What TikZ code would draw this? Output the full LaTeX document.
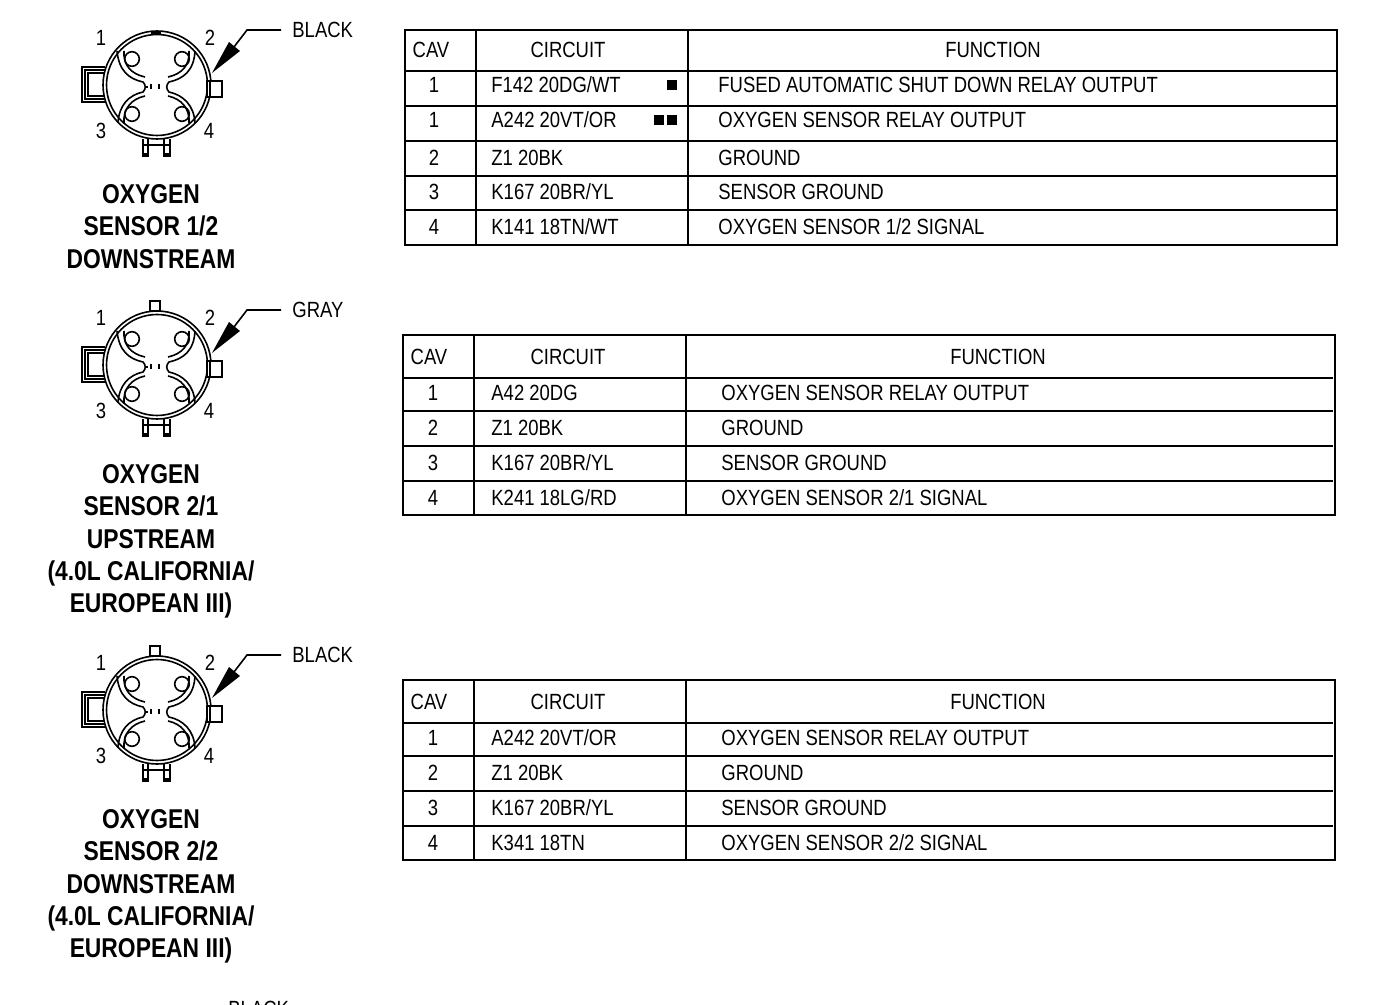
\documentclass[tikz,border=0pt]{standalone}
\usepackage{fontspec}
\setmainfont{Liberation Sans}[FakeStretch=0.84]
\usetikzlibrary{positioning}
\tikzset{cell/.style={inner sep=0pt, font=\fontsize{11}{11}\selectfont},
lcell/.style={cell,anchor=west},
pinno/.style={cell},
title/.style={inner sep=0pt, align=center, font=\fontsize{13.6}{16.2}\selectfont\bfseries},
grid/.style={line width=0.9pt},
conn/.style={line width=0.8pt},
leader/.style={line width=0.8pt},
bullet/.style={rectangle, fill=black, minimum size=5pt, inner sep=0pt},
pics/oxyconn/.style={code={
  \draw [conn] (-52,-18) -- (-75,-18) -- (-75,17) -- (-52,17);
  \draw [conn] (-52,-15) -- (-72,-15) -- (-72,14) -- (-52,14);
  \draw [line width=1.1pt] (-52,-12) -- (-69,-12) -- (-69,11) -- (-52,11);
  \draw [conn,fill=white] (0,0) circle (54);
  \draw [conn] (0,0) circle (50.5);
  % contact arcs
  \draw [conn] (-40,-34) .. controls (-38,-14) and (-28,-6) .. (-14,-3) .. controls (-11,0) and (-11,4) .. (-14,7) .. controls (-28,10) and (-38,20) .. (-39,38);
  \draw [conn] (38,-34) .. controls (37,-14) and (26,-6) .. (12,-3) .. controls (9,0) and (9,4) .. (12,7) .. controls (26,10) and (37,20) .. (38,38);
  \draw [conn] (-33,-34) .. controls (-34,-20) and (-26,-11) .. (-12,-8);
  \draw [conn] (32,-34) .. controls (33,-20) and (25,-11) .. (11,-8);
  \draw [conn] (-33,38) .. controls (-34,24) and (-26,14) .. (-12,11);
  \draw [conn] (32,38) .. controls (33,24) and (25,14) .. (11,11);
  \draw [conn] (-25,-26) circle (7.3);
  \draw [conn] (25,-26) circle (7.3);
  \draw [conn] (-25,29) circle (7.3);
  \draw [conn] (25,29) circle (7.3);
  \fill (-11,1) rectangle (-9,3);
  \fill (-7,-1) rectangle (-5,4);
  \fill (1,-1) rectangle (3,4);
  % side and bottom tabs
  \draw [conn,fill=white] (50,-4) rectangle (65,12);
  \draw [conn] (53,-4) -- (53,12);
  \draw [conn] (-14,54) -- (-14,72);
  \draw [conn] (-9,54) -- (-9,72);
  \draw [conn] (7,54) -- (7,72);
  \draw [conn] (13,54) -- (13,72);
  \draw [conn] (-14,60) -- (13,60);
  \fill (-14,68) rectangle (-9,72);
  \fill (7,68) rectangle (13,72);
  % leader wedge
  \fill (55,-12) -- (72,-43) -- (83,-34) -- cycle;
  \coordinate (-wedge) at (77,-38);
  \coordinate (-bend) at (90,-55);
}},
pics/toptab/.style={code={\draw [conn,fill=white] (-7,-64) rectangle (3,-54);}},
pics/topnotch/.style={code={\fill (-6,-54) rectangle (4,-51);}}}

\begin{document}
\begin{tikzpicture}[x=0.5pt,y=-0.5pt]
  \useasboundingbox (0,0) rectangle (1399,1005);

  % connectors
  \pic (conA) at (157,85) {oxyconn};
  \pic at (157,85) {topnotch};
  \pic (conB) at (157,365) {oxyconn};
  \pic at (157,365) {toptab};
  \pic (conC) at (157,710) {oxyconn};
  \pic at (157,710) {toptab};

  \node (colA) [lcell] at (292,30) {BLACK};
  \node (colB) [lcell] at (292,310) {GRAY};
  \node (colC) [lcell] at (292,655) {BLACK};
  \node (colD) [lcell] at (228,1009) {BLACK};
  \draw [leader] (colA.west) ++(-11,0) coordinate (endA) -- (conA-bend) -- (conA-wedge);
  \draw [leader] (colB.west) ++(-11,0) coordinate (endB) -- (conB-bend) -- (conB-wedge);
  \draw [leader] (colC.west) ++(-11,0) coordinate (endC) -- (conC-bend) -- (conC-wedge);

  \node (a1) [pinno] at (101,38) {1};
  \node (a2) [pinno] at (210,38) {2};
  \node (a3) [pinno] at (101,131) {3};
  \node (a4) [pinno] at (209,131) {4};
  \node (b1) [pinno] at (101,318) {1};
  \node (b2) [pinno] at (210,318) {2};
  \node (b3) [pinno] at (101,411) {3};
  \node (b4) [pinno] at (209,411) {4};
  \node (c1) [pinno] at (101,663) {1};
  \node (c2) [pinno] at (210,663) {2};
  \node (c3) [pinno] at (101,756) {3};
  \node (c4) [pinno] at (209,756) {4};

  \node (titleA) [title,anchor=north] at (151,184) {OXYGEN\\SENSOR 1/2\\DOWNSTREAM};
  \node (titleB) [title,anchor=north] at (151,464) {OXYGEN\\SENSOR 2/1\\UPSTREAM\\(4.0L CALIFORNIA/\\EUROPEAN III)};
  \node (titleC) [title,anchor=north] at (151,809) {OXYGEN\\SENSOR 2/2\\DOWNSTREAM\\(4.0L CALIFORNIA/\\EUROPEAN III)};

  % first table
  \draw [grid] (405,30) rectangle (1337,245);
  \draw [grid] (476,30) -- (476,245);
  \draw [grid] (688,30) -- (688,245);
  \draw [grid] (405,71) -- (1337,71);
  \draw [grid] (405,106) -- (1337,106);
  \draw [grid] (405,141) -- (1337,141);
  \draw [grid] (405,176) -- (1337,176);
  \draw [grid] (405,210) -- (1337,210);
  \node (tacav) [cell] at (431,50) {CAV};
  \node (tacir) [cell] at (568,50) {CIRCUIT};
  \node (tafun) [cell] at (993,50) {FUNCTION};
  \node (ta1) [cell] at (434,85) {1};
  \node (ta2) [cell] at (434,120) {1};
  \node (ta3) [cell] at (434,158) {2};
  \node (ta4) [cell] at (434,192) {3};
  \node (ta5) [cell] at (434,227) {4};
  \node (tw1) [lcell] at (491,85) {F142 20DG/WT};
  \node (tw2) [lcell] at (491,120) {A242 20VT/OR};
  \node (tw3) [lcell] at (491,158) {Z1 20BK};
  \node (tw4) [lcell] at (491,192) {K167 20BR/YL};
  \node (tw5) [lcell] at (491,227) {K141 18TN/WT};
  \node (tf1) [lcell] at (718,85) {FUSED AUTOMATIC SHUT DOWN RELAY OUTPUT};
  \node (tf2) [lcell] at (718,120) {OXYGEN SENSOR RELAY OUTPUT};
  \node (tf3) [lcell] at (718,158) {GROUND};
  \node (tf4) [lcell] at (718,192) {SENSOR GROUND};
  \node (tf5) [lcell] at (718,227) {OXYGEN SENSOR 1/2 SIGNAL};
  \node (mark1) [bullet] at (672,85) {};
  \node (mark2) [bullet] at (659,120) {};
  \node (mark3) [bullet] at (672,120) {};

  % second table
  \draw [grid] (403,335) rectangle (1335,515);
  \draw [grid] (474,335) -- (474,515);
  \draw [grid] (686,335) -- (686,515);
  \draw [grid] (403,378) -- (1333,378);
  \draw [grid] (403,411) -- (1333,411);
  \draw [grid] (403,446) -- (1333,446);
  \draw [grid] (403,481) -- (1333,481);
  \node (tbcav) [cell] at (429,357) {CAV};
  \node (tbcir) [cell] at (568,357) {CIRCUIT};
  \node (tbfun) [cell] at (998,357) {FUNCTION};
  \node (tb1) [cell] at (433,393) {1};
  \node (tb2) [cell] at (433,428) {2};
  \node (tb3) [cell] at (433,463) {3};
  \node (tb4) [cell] at (433,498) {4};
  \node (ub1) [lcell] at (491,393) {A42 20DG};
  \node (ub2) [lcell] at (491,428) {Z1 20BK};
  \node (ub3) [lcell] at (491,463) {K167 20BR/YL};
  \node (ub4) [lcell] at (491,498) {K241 18LG/RD};
  \node (vb1) [lcell] at (721,393) {OXYGEN SENSOR RELAY OUTPUT};
  \node (vb2) [lcell] at (721,428) {GROUND};
  \node (vb3) [lcell] at (721,463) {SENSOR GROUND};
  \node (vb4) [lcell] at (721,498) {OXYGEN SENSOR 2/1 SIGNAL};

  % third table
  \draw [grid] (403,680) rectangle (1335,860);
  \draw [grid] (474,680) -- (474,860);
  \draw [grid] (686,680) -- (686,860);
  \draw [grid] (403,723) -- (1333,723);
  \draw [grid] (403,756) -- (1333,756);
  \draw [grid] (403,791) -- (1333,791);
  \draw [grid] (403,826) -- (1333,826);
  \node (tccav) [cell] at (429,702) {CAV};
  \node (tccir) [cell] at (568,702) {CIRCUIT};
  \node (tcfun) [cell] at (998,702) {FUNCTION};
  \node (tc1) [cell] at (433,738) {1};
  \node (tc2) [cell] at (433,773) {2};
  \node (tc3) [cell] at (433,808) {3};
  \node (tc4) [cell] at (433,843) {4};
  \node (uc1) [lcell] at (491,738) {A242 20VT/OR};
  \node (uc2) [lcell] at (491,773) {Z1 20BK};
  \node (uc3) [lcell] at (491,808) {K167 20BR/YL};
  \node (uc4) [lcell] at (491,843) {K341 18TN};
  \node (vc1) [lcell] at (721,738) {OXYGEN SENSOR RELAY OUTPUT};
  \node (vc2) [lcell] at (721,773) {GROUND};
  \node (vc3) [lcell] at (721,808) {SENSOR GROUND};
  \node (vc4) [lcell] at (721,843) {OXYGEN SENSOR 2/2 SIGNAL};
\end{tikzpicture}
\end{document}
